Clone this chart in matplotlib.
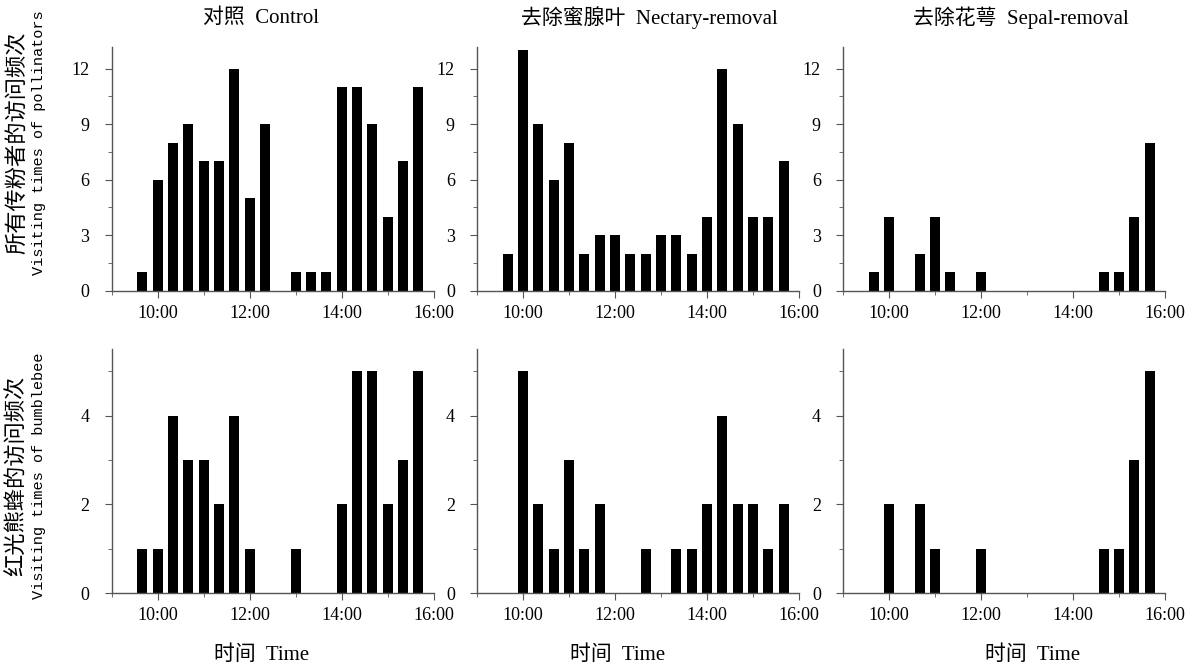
import matplotlib
matplotlib.use("Agg")
import matplotlib.pyplot as plt

plt.rcParams['font.family'] = ['Liberation Serif', 'Noto Sans CJK SC']

# 20-minute observation slots (bar centres)
times = ['9:40', '10:00', '10:20', '10:40', '11:00', '11:20', '11:40',
         '12:00', '12:20', '12:40', '13:00', '13:20', '13:40', '14:00',
         '14:20', '14:40', '15:00', '15:20', '15:40']

# all pollinators
control_all = [1, 6, 8, 9, 7, 7, 12, 5, 9, 0, 1, 1, 1, 11, 11, 9, 4, 7, 11]
nectary_all = [2, 13, 9, 6, 8, 2, 3, 3, 2, 2, 3, 3, 2, 4, 12, 9, 4, 4, 7]
sepal_all = [1, 4, 0, 2, 4, 1, 0, 1, 0, 0, 0, 0, 0, 0, 0, 1, 1, 4, 8]

# bumblebee only
control_bee = [1, 1, 4, 3, 3, 2, 4, 1, 0, 0, 1, 0, 0, 2, 5, 5, 2, 3, 5]
nectary_bee = [0, 5, 2, 1, 3, 1, 2, 0, 0, 1, 0, 1, 1, 2, 4, 2, 2, 1, 2]
sepal_bee = [0, 2, 0, 2, 1, 0, 0, 1, 0, 0, 0, 0, 0, 0, 0, 1, 1, 3, 5]

titles = ['对照  Control', '去除蜜腺叶  Nectary-removal', '去除花萼  Sepal-removal']
xlabel = '时间  Time'


def to_hours(t):
    h, m = t.split(':')
    return int(h) + int(m) / 60


x = [to_hours(t) for t in times]

W, H = 1192, 668
fig = plt.figure(figsize=(W / 100, H / 100), dpi=100)


def fx(px):
    return px / W


def fy(py):
    return 1 - py / H


lefts = [111.7, 477, 843]
width = 322
rows = [(290.7, 244.2), (593.3, 244.3)]

top_data = [control_all, nectary_all, sepal_all]
bot_data = [control_bee, nectary_bee, sepal_bee]

spine_col = '#555555'

for r, (data_row, (bottom_px, h_px)) in enumerate(zip([top_data, bot_data], rows)):
    for c, vals in enumerate(data_row):
        ax = fig.add_axes([fx(lefts[c]), fy(bottom_px), width / W, h_px / H])
        ax.bar(x, vals, width=13 / 60, color='black', linewidth=0)
        ax.set_xlim(9, 16)
        ax.spines['top'].set_visible(False)
        ax.spines['right'].set_visible(False)
        for s in ['left', 'bottom']:
            ax.spines[s].set_color(spine_col)
            ax.spines[s].set_linewidth(1)
        ax.set_xticks([10, 12, 14, 16])
        ax.set_xticklabels(['10:00', '12:00', '14:00', '16:00'])
        ax.set_xticks([9, 11, 13, 15], minor=True)
        if r == 0:
            ax.set_ylim(0, 13.2)
            ax.set_yticks([0, 3, 6, 9, 12])
            ax.set_yticks([1.5, 4.5, 7.5, 10.5], minor=True)
        else:
            ax.set_ylim(0, 5.5)
            ax.set_yticks([0, 2, 4])
            ax.set_yticks([1, 3, 5], minor=True)
        ax.tick_params(axis='both', which='both', direction='out', color=spine_col,
                       labelsize=13)
        ax.tick_params(axis='x', which='major', length=5, pad=5)
        ax.tick_params(axis='x', which='minor', length=3)
        ax.tick_params(axis='y', which='major', length=5, pad=11)
        ax.tick_params(axis='y', which='minor', length=3)

# column titles
for cx, t in zip([261, 649, 1021], titles):
    fig.text(fx(cx), fy(18), t, ha='center', va='center', fontsize=15)

# x labels
for cx in [262, 618, 1033]:
    fig.text(fx(cx), fy(655), xlabel, ha='center', va='center', fontsize=15)

# y labels (two lines each)
ylabels = [('所有传粉者的访问频次', 'Visiting times of pollinators', 143),
           ('红光熊蜂的访问频次', 'Visiting times of bumblebee', 476)]
for cn, en, cy in ylabels:
    fig.text(fx(17), fy(cy), cn, rotation=90, ha='center', va='center',
             fontsize=16, family=['Noto Sans CJK SC'])
    fig.text(fx(39), fy(cy), en, rotation=90, ha='center', va='center',
             fontsize=11, family=['Liberation Mono'])

fig.savefig('out.png', dpi=100)
